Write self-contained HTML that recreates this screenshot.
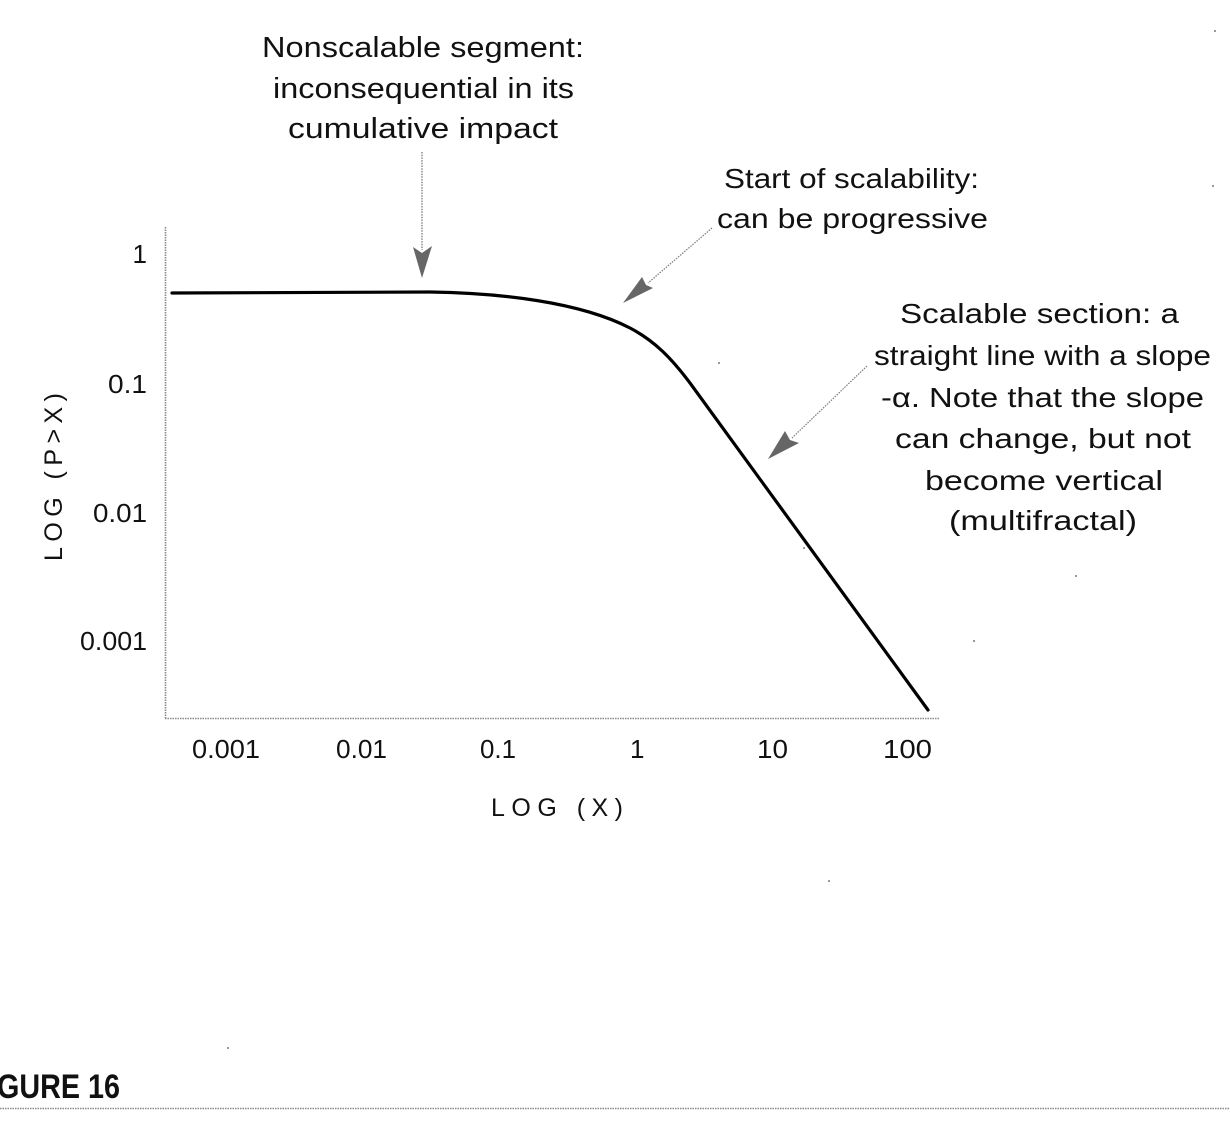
<!DOCTYPE html>
<html>
<head>
<meta charset="utf-8">
<style>
  html, body { margin:0; padding:0; background:#ffffff; }
  body { width:1230px; height:1138px; overflow:hidden; }
  svg { display:block; }
  text { font-family: "Liberation Sans", "DejaVu Sans", sans-serif; fill:#111; }
</style>
</head>
<body>
<svg width="1230" height="1138" viewBox="0 0 1230 1138" xmlns="http://www.w3.org/2000/svg">
  <rect x="0" y="0" width="1230" height="1138" fill="#ffffff"/>

  <!-- Top annotation -->
  <g font-size="29" text-anchor="start">
    <text x="262" y="57" textLength="322" lengthAdjust="spacingAndGlyphs">Nonscalable segment:</text>
    <text x="273" y="98" textLength="301" lengthAdjust="spacingAndGlyphs">inconsequential in its</text>
    <text x="288" y="138" textLength="270" lengthAdjust="spacingAndGlyphs">cumulative impact</text>
  </g>

  <!-- Start of scalability annotation -->
  <g font-size="28">
    <text x="724" y="188" textLength="255" lengthAdjust="spacingAndGlyphs">Start of scalability:</text>
    <text x="717" y="228" textLength="271" lengthAdjust="spacingAndGlyphs">can be progressive</text>
  </g>

  <!-- Scalable section annotation -->
  <g font-size="28">
    <text x="900" y="323" textLength="279" lengthAdjust="spacingAndGlyphs">Scalable section: a</text>
    <text x="874" y="365" textLength="337" lengthAdjust="spacingAndGlyphs">straight line with a slope</text>
    <text x="881" y="407" textLength="323" lengthAdjust="spacingAndGlyphs">-α. Note that the slope</text>
    <text x="895" y="448" textLength="296" lengthAdjust="spacingAndGlyphs">can change, but not</text>
    <text x="925" y="490" textLength="238" lengthAdjust="spacingAndGlyphs">become vertical</text>
    <text x="949" y="530" textLength="188" lengthAdjust="spacingAndGlyphs">(multifractal)</text>
  </g>

  <!-- Axes (dotted grey) -->
  <line x1="165.5" y1="227" x2="165.5" y2="718" stroke="#8a8a8a" stroke-width="1.6" stroke-dasharray="1.5 1"/>
  <line x1="165" y1="718.5" x2="940" y2="718.5" stroke="#8a8a8a" stroke-width="1.6" stroke-dasharray="1.5 1"/>

  <!-- Y tick labels -->
  <g font-size="26" text-anchor="end">
    <text x="147" y="263">1</text>
    <text x="147" y="393" textLength="39" lengthAdjust="spacingAndGlyphs">0.1</text>
    <text x="147" y="522" textLength="54" lengthAdjust="spacingAndGlyphs">0.01</text>
    <text x="147" y="650" textLength="67" lengthAdjust="spacingAndGlyphs">0.001</text>
  </g>

  <!-- X tick labels -->
  <g font-size="26">
    <text x="192" y="758" textLength="68" lengthAdjust="spacingAndGlyphs">0.001</text>
    <text x="336" y="758" textLength="51" lengthAdjust="spacingAndGlyphs">0.01</text>
    <text x="480" y="758" textLength="36" lengthAdjust="spacingAndGlyphs">0.1</text>
    <text x="630" y="758">1</text>
    <text x="757" y="758" textLength="31" lengthAdjust="spacingAndGlyphs">10</text>
    <text x="883" y="758" textLength="49" lengthAdjust="spacingAndGlyphs">100</text>
  </g>

  <!-- Axis titles -->
  <text x="491" y="816" font-size="25" textLength="132" lengthAdjust="spacing">LOG (X)</text>
  <text transform="translate(62,561) rotate(-90)" x="0" y="0" font-size="25" textLength="168" lengthAdjust="spacing">LOG (P&gt;X)</text>

  <!-- Curve -->
  <path d="M172,293 L430,292 C500,293 580,302 630,328 C655,341 672,359 690,383 L928,710"
        fill="none" stroke="#000" stroke-width="3.2" stroke-linejoin="round" stroke-linecap="round"/>

  <!-- Arrow 1 (vertical) -->
  <line x1="422" y1="152" x2="422" y2="250" stroke="#7a7a7a" stroke-width="1.3" stroke-dasharray="1.5 1.2"/>
  <polygon points="413,247 422,253 432,246 422,278" fill="#666"/>

  <!-- Arrow 2 -->
  <line x1="712" y1="228" x2="648" y2="283" stroke="#7a7a7a" stroke-width="1.2" stroke-dasharray="1.5 1.2"/>
  <polygon points="642,277 646,285 653,288 623,303" fill="#666"/>

  <!-- Arrow 3 -->
  <line x1="867" y1="366" x2="792" y2="438" stroke="#7a7a7a" stroke-width="1.2" stroke-dasharray="1.5 1.2"/>
  <polygon points="785,431 790,440 799,443 768,459" fill="#666"/>

  <!-- small specks -->
  <g fill="#999">
    <rect x="1214" y="30" width="2" height="2"/>
    <rect x="1212" y="185" width="2" height="2"/>
    <rect x="718" y="362" width="2" height="2"/>
    <rect x="803" y="547" width="2" height="2"/>
    <rect x="1075" y="575" width="2" height="2"/>
    <rect x="973" y="640" width="2" height="2"/>
    <rect x="828" y="880" width="2" height="2"/>
    <rect x="227" y="1047" width="2" height="2"/>
  </g>

  <!-- Figure caption -->
  <text x="-3" y="1098" font-size="34" font-weight="bold" textLength="123" lengthAdjust="spacingAndGlyphs">GURE 16</text>
  <line x1="0" y1="1108.5" x2="1230" y2="1108.5" stroke="#8a8a8a" stroke-width="1.5" stroke-dasharray="1.5 1"/>
</svg>
</body>
</html>
